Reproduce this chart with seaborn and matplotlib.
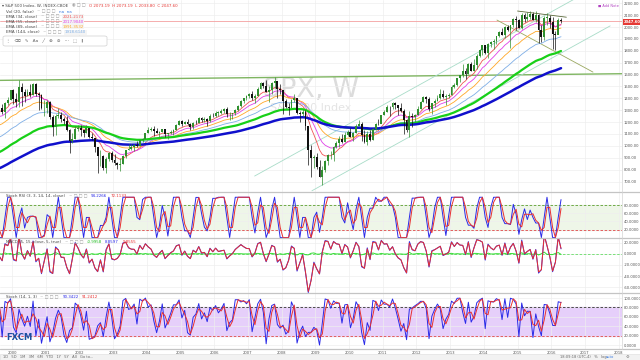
import numpy as np
import pandas as pd
import matplotlib
matplotlib.use("Agg")
import matplotlib.pyplot as plt
import matplotlib.patches as mpatches
from matplotlib.text import Annotation
import seaborn as sns

sns.set_theme(style="white")
plt.rcParams['font.family'] = ['DejaVu Sans']

# ---------------- data (S&P 500, monthly) ----------------
# warm-up closes Jan 1990 .. Jul 1999 (used only to seed the moving averages)
warmup_close = [
    329.1, 331.9, 339.9, 330.8, 361.2, 358.0, 356.2, 322.6, 306.1, 304.0, 322.2, 330.2,
    343.9, 367.1, 375.2, 375.3, 389.8, 371.2, 387.8, 395.4, 387.9, 392.5, 375.2, 417.1,
    408.8, 412.7, 403.7, 414.9, 415.4, 408.1, 424.2, 414.0, 417.8, 418.7, 431.4, 435.7,
    438.8, 443.4, 451.7, 440.2, 450.2, 451.0, 448.1, 463.6, 458.9, 467.8, 461.8, 466.5,
    481.6, 467.1, 445.8, 450.9, 456.5, 444.3, 458.3, 475.5, 462.7, 472.4, 454.0, 459.3,
    470.4, 487.4, 500.7, 514.7, 533.4, 544.8, 562.1, 561.9, 584.4, 581.5, 605.4, 615.9,
    636.0, 640.4, 645.5, 654.2, 669.1, 670.6, 639.9, 651.9, 687.3, 705.3, 757.0, 740.7,
    786.2, 790.8, 757.1, 801.3, 848.3, 885.1, 954.3, 899.5, 947.3, 914.6, 955.4, 970.4,
    980.3, 1049.3, 1101.8, 1111.8, 1090.8, 1133.8, 1120.7, 957.3, 1017.0, 1098.7, 1163.6, 1229.2,
    1279.6, 1238.3, 1286.4, 1335.2, 1301.8, 1372.7, 1328.7]

# Aug 1999 .. Apr 2016
close = [
    1320.4, 1282.7, 1362.9, 1388.9, 1469.3,
    1394.5, 1366.4, 1498.6, 1452.4, 1420.6, 1454.6, 1430.8, 1517.7, 1436.5, 1429.4, 1314.9, 1320.3,
    1366.0, 1239.9, 1160.3, 1249.5, 1255.8, 1224.4, 1211.2, 1133.6, 1040.9, 1059.8, 1139.5, 1148.1,
    1130.2, 1106.7, 1147.4, 1076.9, 1067.1, 989.8, 911.6, 916.1, 815.3, 885.8, 936.3, 879.8,
    855.7, 841.2, 848.2, 916.9, 963.6, 974.5, 990.3, 1008.0, 996.0, 1050.7, 1058.2, 1111.9,
    1131.1, 1144.9, 1126.2, 1107.3, 1120.7, 1140.8, 1101.7, 1104.2, 1114.6, 1130.2, 1173.8, 1211.9,
    1181.3, 1203.6, 1180.6, 1156.9, 1191.5, 1191.3, 1234.2, 1220.3, 1228.8, 1207.0, 1249.5, 1248.3,
    1280.1, 1280.7, 1294.9, 1310.6, 1270.1, 1270.2, 1276.7, 1303.8, 1335.9, 1377.9, 1400.6, 1418.3,
    1438.2, 1406.8, 1420.9, 1482.4, 1530.6, 1503.4, 1455.3, 1474.0, 1526.8, 1549.4, 1481.1, 1468.4,
    1378.6, 1330.6, 1322.7, 1385.6, 1400.4, 1280.0, 1267.4, 1282.8, 1166.4, 968.8, 896.2, 903.3,
    825.9, 735.1, 797.9, 872.8, 919.1, 919.3, 987.5, 1020.6, 1057.1, 1036.2, 1095.6, 1115.1,
    1073.9, 1104.5, 1169.4, 1186.7, 1089.4, 1030.7, 1101.6, 1049.3, 1141.2, 1183.3, 1180.6, 1257.6,
    1286.1, 1327.2, 1325.8, 1363.6, 1345.2, 1320.6, 1292.3, 1218.9, 1131.4, 1253.3, 1247.0, 1257.6,
    1312.4, 1365.7, 1408.5, 1397.9, 1310.3, 1362.2, 1379.3, 1406.6, 1440.7, 1412.2, 1416.2, 1426.2,
    1498.1, 1514.7, 1569.2, 1597.6, 1630.7, 1606.3, 1685.7, 1633.0, 1681.6, 1756.5, 1805.8, 1848.4,
    1782.6, 1859.5, 1872.3, 1883.9, 1923.6, 1960.2, 1930.7, 2003.4, 1972.3, 2018.1, 2067.6, 2058.9,
    1995.0, 2104.5, 2067.9, 2085.5, 2107.4, 2063.1, 2103.8, 1972.2, 1920.0, 2079.4, 2080.4, 2043.9,
    1940.2, 1932.2, 2059.7, 2047.6]
high = [
    1332, 1352, 1373, 1408, 1473,
    1478, 1445, 1553, 1527, 1481, 1477, 1518, 1525, 1531, 1454, 1439, 1389,
    1383, 1376, 1263, 1269, 1316, 1287, 1239, 1255, 1141, 1111, 1163, 1173,
    1176, 1131, 1173, 1147, 1107, 1070, 994, 965, 925, 907, 952, 954,
    935, 864, 895, 924, 965, 1015, 1015, 1012, 1040, 1053, 1063, 1112,
    1155, 1159, 1163, 1150, 1128, 1146, 1141, 1109, 1131, 1142, 1188, 1217,
    1218, 1212, 1229, 1192, 1199, 1219, 1246, 1245, 1243, 1233, 1270, 1276,
    1295, 1297, 1310, 1318, 1326, 1284, 1280, 1307, 1340, 1389, 1407, 1431,
    1441, 1461, 1439, 1499, 1535, 1541, 1556, 1503, 1539, 1576, 1520, 1523,
    1471, 1396, 1359, 1397, 1440, 1404, 1292, 1313, 1304, 1167, 1007, 919,
    944, 877, 833, 877, 930, 957, 997, 1040, 1080, 1101, 1113, 1130,
    1150, 1113, 1180, 1220, 1200, 1132, 1121, 1130, 1148, 1196, 1228, 1263,
    1303, 1344, 1332, 1366, 1371, 1346, 1357, 1308, 1230, 1293, 1277, 1270,
    1334, 1378, 1420, 1422, 1415, 1364, 1392, 1427, 1475, 1470, 1435, 1448,
    1509, 1530, 1570, 1598, 1687, 1654, 1698, 1709, 1730, 1771, 1813, 1849,
    1850, 1867, 1884, 1897, 1925, 1968, 1991, 2005, 2019, 2019, 2075, 2093,
    2064, 2120, 2115, 2126, 2134, 2130, 2132, 2113, 2021, 2094, 2116, 2104,
    2081, 1963, 2073, 2073]
low = [
    1268, 1268, 1233, 1342, 1387,
    1350, 1326, 1331, 1339, 1373, 1420, 1413, 1431, 1419, 1305, 1313, 1254,
    1274, 1228, 1081, 1091, 1232, 1203, 1182, 1124, 944, 1026, 1055, 1124,
    1081, 1074, 1105, 1063, 1048, 952, 775, 833, 800, 768, 872, 868,
    840, 806, 789, 847, 902, 962, 963, 960, 990, 995, 1031, 1061,
    1106, 1124, 1087, 1107, 1076, 1113, 1078, 1060, 1099, 1090, 1131, 1173,
    1163, 1180, 1176, 1137, 1146, 1188, 1191, 1201, 1205, 1169, 1202, 1246,
    1245, 1253, 1268, 1280, 1245, 1219, 1225, 1257, 1290, 1327, 1360, 1385,
    1403, 1389, 1364, 1416, 1476, 1484, 1452, 1371, 1439, 1489, 1407, 1435,
    1271, 1316, 1257, 1324, 1373, 1272, 1200, 1248, 1133, 840, 741, 815,
    805, 734, 667, 784, 843, 888, 869, 979, 992, 1020, 1029, 1086,
    1071, 1045, 1106, 1165, 1040, 1028, 1011, 1040, 1049, 1132, 1174, 1214,
    1257, 1289, 1249, 1312, 1312, 1259, 1283, 1101, 1115, 1075, 1158, 1202,
    1259, 1312, 1366, 1358, 1292, 1267, 1325, 1378, 1397, 1403, 1343, 1399,
    1426, 1485, 1502, 1537, 1581, 1560, 1604, 1627, 1633, 1646, 1746, 1768,
    1771, 1738, 1834, 1815, 1859, 1915, 1930, 1905, 1965, 1821, 2001, 1973,
    1988, 1981, 2040, 2049, 2068, 2056, 2044, 1867, 1872, 1894, 2019, 1993,
    1812, 1810, 1938, 2034]

years = list(range(2000, 2019))
price_ticks = list(range(700, 2201, 100))
ema_periods = [34, 55, 89, 144, 233, 377]          # weekly EMA lengths
ema_colors = ['#f05454', '#e040e8', '#ffa726', '#7eaee6', '#18d018', '#1010cc']
ema_widths = [0.6, 0.6, 0.6, 0.6, 1.6, 1.8]

# trend lines drawn on the chart (decimal year, price)
resist_t, resist_p = [2000.2, 2007.8], [1553, 1576]
chan_lo_t, chan_lo_p = [2008.9, 2017.75], [622, 2010]
chan_hi_t, chan_hi_p = [2007.2, 2017.2], [746, 2316]
desc_t, desc_p = [2014.39, 2017.24], [2059, 1621]
top_t, top_p = [2015.0, 2016.45], [2135, 2083]
last_price = 2047.60
ohlc_text = 'O 2073.19  H 2073.19  L 2033.80  C 2047.60'

# ---------------- derived series ----------------
n_warm = len(warmup_close)
all_close = pd.Series(warmup_close + close, dtype=float)
dates = pd.date_range('1999-08-01', periods=len(close), freq='MS')
t = dates.year + (dates.month - 0.5) / 12.0
wpm = 52.18 / 12.0

def ema_w(series, n):
    a = 1 - (1 - 2.0 / (n + 1)) ** wpm
    return series.ewm(alpha=a, adjust=False).mean()

df = pd.DataFrame({'t': t, 'close': close, 'high': high, 'low': low})
df['open'] = [warmup_close[-1]] + close[:-1]
for n in ema_periods:
    df[f'ema{n}'] = ema_w(all_close, n).values[n_warm:]

# stochastic (pane 4)
hh = pd.Series(high, dtype=float).rolling(3, min_periods=1).max()
ll = pd.Series(low, dtype=float).rolling(3, min_periods=1).min()
df['stk'] = (100 * (df['close'] - ll) / (hh - ll)).values
df['std'] = df['stk'].rolling(2, min_periods=1).mean()
# stoch RSI (pane 2)
d = all_close.diff()
up = d.clip(lower=0).ewm(alpha=1/3, adjust=False).mean()
dn = (-d.clip(upper=0)).ewm(alpha=1/3, adjust=False).mean()
rsi = 100 - 100 / (1 + up / dn)
rl, rh = rsi.rolling(3).min(), rsi.rolling(3).max()
srsi = (100 * (rsi - rl) / (rh - rl)).rolling(2).mean()
df['srk'] = srsi.values[n_warm:]
df['srd'] = srsi.rolling(2).mean().values[n_warm:]
# MACD-type oscillator (pane 3), monthly-sampled equivalent of the weekly one
macd = ema_w(all_close, 3) - ema_w(all_close, 8)
sig = ema_w(macd, 3)
df['macd'] = macd.values[n_warm:]
df['sig'] = sig.values[n_warm:]
df['hist'] = (macd - sig).values[n_warm:]

# ---------------- layout ----------------
W, H = 640.0, 360.0
RIGHT = 622.0
fig = plt.figure(figsize=(6.4, 3.6), dpi=100)
fig.patch.set_facecolor('white')

def add_ax(top_px, bot_px):
    return fig.add_axes([0, 1 - bot_px / H, RIGHT / W, (bot_px - top_px) / H])

ax0 = add_ax(0, 192)
ax1 = add_ax(192, 238)
ax2 = add_ax(238, 293)
ax3 = add_ax(293, 349)
x0 = 2000 - 12 / 33.7
x1 = 2000 + (RIGHT - 12) / 33.7

lab_kw = dict(labelsize=2.7, colors='#555555', pad=1.2, length=0)
for ax in (ax0, ax1, ax2, ax3):
    ax.set_facecolor('white')
    ax.set_xlim(x0, x1)
    ax.yaxis.tick_right()
    ax.tick_params(axis='y', **lab_kw)
    ax.set_xticks(years)
    ax.grid(True, color='#eeeeee', lw=0.5)
    for s in ax.spines.values():
        s.set_visible(False)
for ax in (ax0, ax1, ax2):
    ax.tick_params(axis='x', labelbottom=False, length=0)
ax3.tick_params(axis='x', **lab_kw)
ax3.set_xticklabels([str(y) for y in years])

# ---- main pane ----
ax0.set_ylim(2200 - (192 - 3.3) / 0.1188, 2200 + 3.3 / 0.1188)
ax0.set_yticks(price_ticks)
ax0.set_yticklabels([f'{v:.2f}' for v in price_ticks])

ax0.text(0.5, 0.531, 'SPX, W', transform=ax0.transAxes, ha='center', va='center',
         fontsize=19.5, color='#dcdcdc', zorder=0)
ax0.text(0.5, 0.435, 'S&P 500 Index', transform=ax0.transAxes, ha='center', va='center',
         fontsize=8, color='#e4e4e4', zorder=0)

ax0.axline((resist_t[0], resist_p[0]), (resist_t[1], resist_p[1]), color='#7fb561', lw=1.0, zorder=2)
ax0.axhline(last_price, color='#f4a0a0', lw=0.6, zorder=2)
ax0.plot(chan_lo_t, chan_lo_p, color='#a8dcc8', lw=0.6, zorder=2)
ax0.plot(chan_hi_t, chan_hi_p, color='#a8dcc8', lw=0.6, zorder=2)
ax0.plot(desc_t, desc_p, color='#9aa860', lw=0.6, zorder=2)
ax0.plot(top_t, top_p, color='#5a6a3a', lw=0.6, zorder=6)

for n, c, w in zip(ema_periods, ema_colors, ema_widths):
    sns.lineplot(data=df, x='t', y=f'ema{n}', ax=ax0, color=c, lw=w, legend=False, zorder=4)

upc = df['close'] >= df['open']
col = np.where(upc, '#2f8f2f', '#111111')
ax0.vlines(df['t'], df['low'], df['high'], colors=col, lw=0.5, zorder=5)
ax0.bar(df['t'], (df['close'] - df['open']).abs().clip(lower=2),
        bottom=np.minimum(df['open'], df['close']), width=0.055,
        color=col, linewidth=0, zorder=5)

# ---- pane 2: stoch RSI ----
ax1.set_ylim(-1, 113)
ax1.set_yticks([20, 40, 60, 80])
ax1.set_yticklabels(['20.0000', '40.0000', '60.0000', '80.0000'])
ax1.axhspan(20, 80, color='#eef6e8', zorder=0)
ax1.axhline(80, color='#5aa02c', lw=0.6, ls=(0, (3, 2)))
ax1.axhline(20, color='#e04848', lw=0.6, ls=(0, (3, 2)))
sns.lineplot(data=df, x='t', y='srk', ax=ax1, color='#2a2ae8', lw=0.7, legend=False)
sns.lineplot(data=df, x='t', y='srd', ax=ax1, color='#e83030', lw=0.7, legend=False)

# ---- pane 3: MACD ----
ax2.set_ylim(-70.2, 28.4)
ax2.set_yticks([-60, -40, -20, 0, 20])
ax2.set_yticklabels(['-60.0000', '-40.0000', '-20.0000', '0.0000', '20.0000'])
ax2.axhline(0, color='#66dd66', lw=0.6, ls=(0, (3, 2)))
sns.lineplot(data=df, x='t', y='hist', ax=ax2, color='#33dd33', lw=0.7, legend=False)
sns.lineplot(data=df, x='t', y='macd', ax=ax2, color='#2a2ae8', lw=0.7, legend=False)
sns.lineplot(data=df, x='t', y='sig', ax=ax2, color='#e83030', lw=0.7, legend=False)

# ---- pane 4: Stochastic ----
ax3.set_ylim(-7.8, 110.6)
ax3.set_yticks([0, 20, 40, 60, 80, 100])
ax3.set_yticklabels(['0.0000', '20.0000', '40.0000', '60.0000', '80.0000', '100.0000'])
ax3.axhspan(20, 80, color='#e6cffa', zorder=0)
ax3.axhline(80, color='#333333', lw=0.6, ls=(0, (3, 2)))
ax3.axhline(20, color='#e04848', lw=0.6, ls=(0, (3, 2)))
sns.lineplot(data=df, x='t', y='stk', ax=ax3, color='#2a2ae8', lw=0.7, legend=False)
sns.lineplot(data=df, x='t', y='std', ax=ax3, color='#e83030', lw=0.7, legend=False)

for ax in (ax0, ax1, ax2, ax3):
    ax.set_xlabel('')
    ax.set_ylabel('')

# ---------------- chrome ----------------
def fx(px): return px / W
def fy(py): return 1 - py / H

for yy in (192, 238, 293, 349):
    fig.add_artist(plt.Line2D([0, 1], [fy(yy), fy(yy)], color='#c4c4c4', lw=0.9))
fig.add_artist(plt.Line2D([fx(RIGHT), fx(RIGHT)], [fy(0), fy(349)], color='#d4d4d4', lw=0.5))
fig.add_artist(mpatches.Rectangle((0, 0), 1, fy(353.5), transform=fig.transFigure,
                                  facecolor='#f2f2f2', edgecolor='#dddddd', lw=0.4))
fig.text(fx(3), fy(357), '1D   5D   1M   3M   6M   YTD   1Y   5Y   All   Go to...',
         fontsize=2.6, color='#666666', va='center')
fig.text(fx(560), fy(357), '18:09:18 (UTC-4)   %   log', fontsize=2.6, color='#666666', va='center')
fig.text(fx(606), fy(357), 'auto', fontsize=2.6, color='#3a7be0', va='center')
fig.text(fx(626), fy(357), '⚙', fontsize=3, color='#777777', va='center')

# current price tag
fig.text(fx(623.5), fy(21.7), f'{last_price:.2f}', fontsize=2.7, color='white', va='center',
         fontweight='bold', bbox=dict(boxstyle='square,pad=0.25', fc='#e53935', ec='none'))
fig.text(fx(619), fy(5.5), '■ Add Note', fontsize=2.5, color='#b040c0', va='center', ha='right')

fs = 2.9

def chain(x_px, y_px, parts):
    """Write a row of text pieces one after another."""
    prev = fig.text(fx(x_px), fy(y_px), parts[0][0], fontsize=fs, color=parts[0][1], va='center',
                    bbox=parts[0][2] if len(parts[0]) > 2 else None, zorder=6)
    for p in parts[1:]:
        a = Annotation(p[0], xy=(1, 0.5), xycoords=prev, xytext=(2.5, 0),
                       textcoords='offset points', va='center', ha='left', fontsize=fs,
                       color=p[1], annotation_clip=False,
                       bbox=p[2] if len(p) > 2 else None)
        a.set_zorder(6)
        fig.add_artist(a)
        prev = a
    return prev

box = dict(boxstyle='square,pad=0.15', fc='#f4f4f4', ec='none')
chain(2, 5.7, [('▾ S&P 500 Index, W, INDEX:CBOE', '#444444'), ('◉ □ □', '#999999'),
               (ohlc_text, '#e53935')])
chain(6, 11.7, [('Vol (20, false)', '#444444'), ('~ □ □ □', '#999999'), ('na  na', '#3a7be0')])
for n, yy in [(34, 16.7), (55, 21.7), (89, 26.7), (144, 32.3)]:
    c = ema_colors[ema_periods.index(n)]
    chain(6, yy, [(f'EMA ({n}, close)', '#444444'), ('~ □ □ □', '#999999'),
                  (f"{df[f'ema{n}'].iloc[-1]:.4f}", c, box)])

fig.add_artist(mpatches.FancyBboxPatch((fx(3), fy(46)), fx(104), fy(36) - fy(46),
                                       boxstyle='round,pad=0,rounding_size=0.004',
                                       transform=fig.transFigure, facecolor='white',
                                       edgecolor='#d0d0d0', lw=0.5, zorder=5))
fig.text(fx(6), fy(41), '⋮   ⌫   ✎   Aa   ╱   ⊕   ⊘   ⋯   ⬚   ‖', fontsize=3.2, color='#666666',
         va='center', zorder=6)

# pane titles
chain(6, 196, [('Stoch RSI (3, 3, 14, 14, close)', '#444444'), ('~ □ □ □', '#999999'),
               (f"{df['srk'].iloc[-1]:.4f}", '#2a2ae8'), (f"{df['srd'].iloc[-1]:.4f}", '#e83030')])
chain(6, 242, [('MACD (5, 15, close, 5, true)', '#444444'), ('~ □ □ □', '#999999'),
               (f"{df['hist'].iloc[-1]:.4f}", '#22bb22'), (f"{df['macd'].iloc[-1]:.4f}", '#2a2ae8'),
               (f"{df['sig'].iloc[-1]:.4f}", '#e83030')])
chain(6, 297, [('Stoch (14, 1, 3)', '#444444'), ('~ □ □ □', '#999999'),
               (f"{df['stk'].iloc[-1]:.4f}", '#2a2ae8'), (f"{df['std'].iloc[-1]:.4f}", '#e83030')])
fig.text(fx(6), fy(338), 'FXCM', fontsize=6, color='#1a4fa0', fontweight='bold', va='center', zorder=6)

fig.savefig('out.png', dpi=100, facecolor='white')
